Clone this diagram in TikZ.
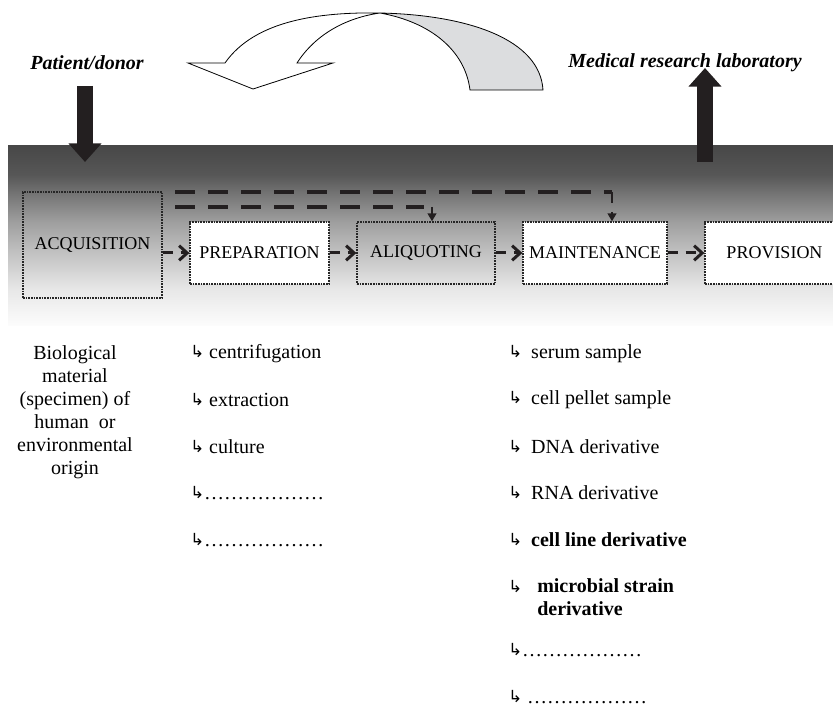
\documentclass[tikz,border=0pt]{standalone}
\usepackage{fontspec}
\setmainfont{Liberation Serif}
\newfontfamily\symfont{DejaVu Sans}
\usetikzlibrary{arrows.meta}

\definecolor{inkblack}{HTML}{231F20}
\definecolor{ribbongray}{HTML}{DCDDDF}
% only 25bp..75bp of a declared shading fill the path
\pgfdeclareverticalshading{bandshade}{100bp}{color(0bp)=(black!1); color(25bp)=(black!1); color(35bp)=(black!9); color(46bp)=(black!25); color(54bp)=(black!38); color(62bp)=(black!55); color(67bp)=(black!66); color(75bp)=(black!72); color(100bp)=(black!72)}

% small hook arrow in front of the list items
\newcommand{\hook}{{\symfont\fontsize{12.5}{12.5}\selectfont\raisebox{1.2pt}{↳}}}

\tikzset{
  stagebox/.style={draw=black!85, dash pattern=on 1.2pt off 0.8pt, line width=1pt, fill=white, inner sep=0pt, font=\fontsize{13.5}{16}\selectfont},
  stageclear/.style={stagebox, fill=none},
  flowarrow/.style={draw=inkblack, line width=2.25pt, dash pattern=on 7.5pt off 6pt, -{Straight Barb[length=6pt,width=11pt]}},
  overdash/.style={draw=inkblack, line width=3pt, dash pattern=on 15pt off 9.75pt},
  droparrow/.style={draw=inkblack, line width=1.5pt, -{Triangle[length=6pt,width=6.5pt]}},
  bigarrow/.style={draw=inkblack, line width=12pt, -{Triangle[length=14pt,width=24pt]}},
  actor/.style={font=\fontsize{15}{18}\selectfont\bfseries\itshape},
  listitem/.style={anchor=west, inner sep=0pt, font=\fontsize{15}{17.25}\selectfont}
}

\begin{document}
\begin{tikzpicture}[x=0.75pt, y=-0.75pt]
\useasboundingbox (0,0) rectangle (833,709);

% Grey band behind the stages
\shade[shading=bandshade] (8,146) rectangle (833,326);

% Twisted ribbon arrow on top
\filldraw[fill=ribbongray, draw=black, line width=0.6pt] (380,13) .. controls (470,15) and (540,40) .. (543,90) -- (470,90) .. controls (465,50) and (430,22) .. (380,13) -- cycle;
\filldraw[fill=white, draw=black, line width=0.6pt] (380,13) .. controls (320,12) and (255,20) .. (225,63) -- (188,63) -- (253,89) -- (333,63) -- (297,63) .. controls (315,35) and (345,18) .. (380,13) -- cycle;

% Who gives and who receives
\node[actor] (donor) at (87,63) {Patient/donor};
\node[actor] (lab) at (685,63) {Medical research laboratory};

% The five stages
\node[stageclear, minimum width=104.25pt, minimum height=79.5pt] (acq) at (92.5,245) {ACQUISITION};
\node[stagebox, minimum width=104.25pt, minimum height=46.5pt] (prep) at (259.5,253) {PREPARATION};
\node[stageclear, minimum width=103.5pt, minimum height=46.5pt] (aliq) at (426,253) {ALIQUOTING};
\node[stagebox, minimum width=108pt, minimum height=46.5pt] (maint) at (595,253) {MAINTENANCE};
\node[stagebox, minimum width=104.25pt, minimum height=46.5pt] (prov) at (774.5,253) {PROVISION\hspace{10pt}};

% Dashed flow between stages
\foreach \a/\b in {acq/prep, prep/aliq, aliq/maint, maint/prov} {
    \draw[flowarrow] (\b.west -| \a.east) -- (\b.west);
}

% Shortcuts over the top
\coordinate (topA) at (175,192);
\coordinate (topB) at (175,207);
\coordinate (dropM) at ([xshift=12.75pt]maint.north);
\coordinate (dropA) at ([xshift=4.5pt]aliq.north);
\draw[overdash] (topA) -- (topA -| dropM);
\draw[droparrow, dash pattern=on 8pt off 7pt] (topA -| dropM) -- (dropM);
\draw[overdash] (topB) -- ([xshift=-6pt]topB -| dropA);
\draw[droparrow] (topB -| dropA) -- (dropA);

% Material in and out
\coordinate (inTop) at (85,86);
\coordinate (inTip) at (85,162);
\coordinate (outBase) at (705,162);
\coordinate (outTip) at (705,68);
\draw[bigarrow] (inTop) -- (inTip);
\draw[bigarrow] (outBase) -- (outTip);

% Text below the stages
\node[listitem, anchor=center, align=center] (origin) at (75,412) {Biological\\ material\\ (specimen) of\\ human~ or\\ environmental\\ origin};

\foreach \y/\txt [count=\k] in {354/\hook\ centrifugation, 400/\hook\ extraction, 447/\hook\ culture, 493/\hook………………, 540/\hook………………} {
    \node[listitem] (prep-\k) at (190,\y) {\txt};
}

\foreach \y/\txt [count=\k] in {354/serum sample, 400/cell pellet sample, 447/DNA derivative, 493/RNA derivative, 540/\textbf{cell line derivative}} {
    \node[listitem] (maint-\k) at (508,\y) {\hook\hspace{0.45em}\txt};
}
\node[listitem] (maint-6) at (508,587) {\hook};
\node[listitem, align=left] (maint-6t) at (537,597) {\textbf{microbial strain}\\\textbf{derivative}};
\node[listitem] (maint-7) at (508,650) {\hook………………};
\node[listitem] (maint-8) at (508,697) {\hook\ ………………};
\end{tikzpicture}
\end{document}
